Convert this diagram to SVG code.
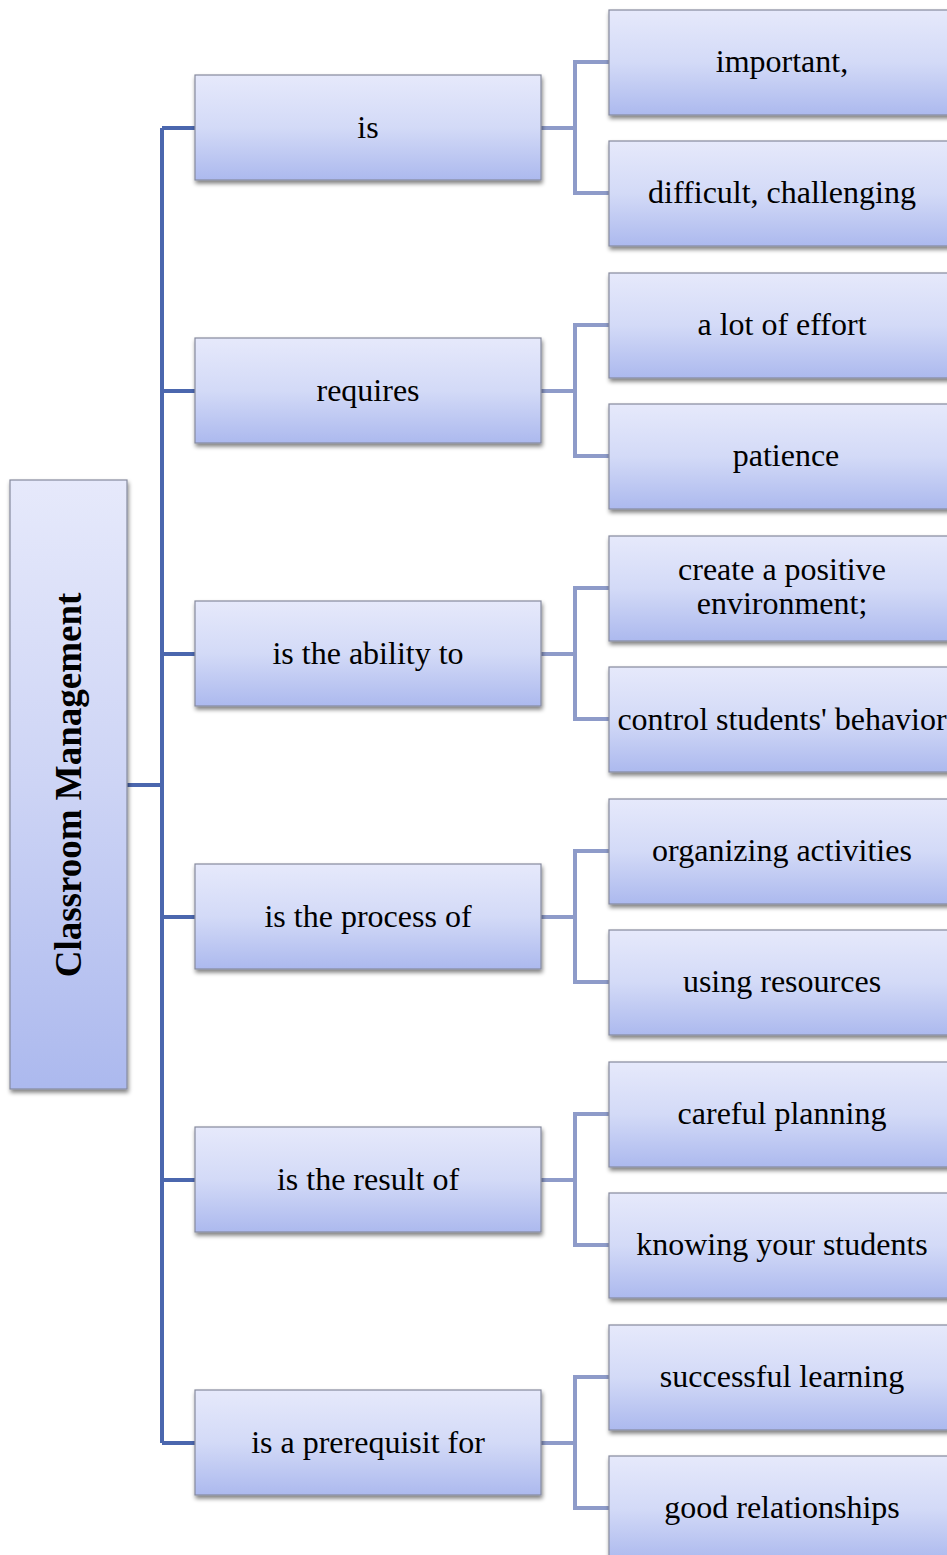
<svg xmlns="http://www.w3.org/2000/svg" width="947" height="1555" viewBox="0 0 947 1555">
  <defs>
    <linearGradient id="boxFill" x1="0" y1="0" x2="0" y2="1">
      <stop offset="0" stop-color="#e6e9fb"/>
      <stop offset="0.5" stop-color="#d3daf7"/>
      <stop offset="1" stop-color="#acb9ee"/>
    </linearGradient>
    <linearGradient id="rootFill" x1="0" y1="0" x2="0" y2="1">
      <stop offset="0" stop-color="#e6e9fb"/>
      <stop offset="0.5" stop-color="#cdd4f5"/>
      <stop offset="1" stop-color="#acb9ee"/>
    </linearGradient>
    <filter id="shadow" x="-10%" y="-10%" width="125%" height="130%">
      <feGaussianBlur in="SourceAlpha" stdDeviation="2"/>
      <feOffset dx="1" dy="3" result="off"/>
      <feComponentTransfer><feFuncA type="linear" slope="0.5"/></feComponentTransfer>
      <feMerge><feMergeNode/><feMergeNode in="SourceGraphic"/></feMerge>
    </filter>
  </defs>
  <style>
    .box { fill: url(#boxFill); stroke: #868a9e; stroke-width: 1.2; filter: url(#shadow); }
    .root { fill: url(#rootFill); stroke: #868a9e; stroke-width: 1.2; filter: url(#shadow); }
    .lbl { font-family: "Liberation Serif", "Times New Roman", serif; font-size: 32px; fill: #000; text-anchor: middle; }
    .rootlbl { font-family: "Liberation Serif", "Times New Roman", serif; font-size: 37px; font-weight: bold; fill: #000; text-anchor: middle; }
    .main { fill: none; stroke: #4b67ae; stroke-width: 4; }
    .sub { fill: none; stroke: #8e9bc9; stroke-width: 4; }
  </style>
  <rect width="947" height="1555" fill="#ffffff"/>

  <!-- connectors -->
  <g id="connectors">
    <path class="main" d="M127 785 H162 M162 128 V1443 M162 128 H195 M162 391 H195 M162 654 H195 M162 917 H195 M162 1180 H195 M162 1443 H195"/>
    <path class="sub" d="M541 128 H575 M609 62 H575 V193 H609"/>
    <path class="sub" d="M541 391 H575 M609 325 H575 V456 H609"/>
    <path class="sub" d="M541 654 H575 M609 588 H575 V719 H609"/>
    <path class="sub" d="M541 917 H575 M609 851 H575 V982 H609"/>
    <path class="sub" d="M541 1180 H575 M609 1114 H575 V1245 H609"/>
    <path class="sub" d="M541 1443 H575 M609 1377 H575 V1508 H609"/>
  </g>

  <!-- root -->
  <g id="root">
    <rect class="root" x="10" y="480" width="117" height="609"/>
    <text class="rootlbl" transform="translate(81 785) rotate(-90)">Classroom Management</text>
  </g>

  <!-- first level -->
  <g id="n-is"><rect class="box" x="195" y="75" width="346" height="105"/><text class="lbl" x="368" y="138">is</text></g>
  <g id="n-requires"><rect class="box" x="195" y="338" width="346" height="105"/><text class="lbl" x="368" y="401">requires</text></g>
  <g id="n-ability"><rect class="box" x="195" y="601" width="346" height="105"/><text class="lbl" x="368" y="664">is the ability to</text></g>
  <g id="n-process"><rect class="box" x="195" y="864" width="346" height="105"/><text class="lbl" x="368" y="927">is the process of</text></g>
  <g id="n-result"><rect class="box" x="195" y="1127" width="346" height="105"/><text class="lbl" x="368" y="1190">is the result of</text></g>
  <g id="n-prereq"><rect class="box" x="195" y="1390" width="346" height="105"/><text class="lbl" x="368" y="1453">is a prerequisit for</text></g>

  <!-- second level -->
  <g id="n-important"><rect class="box" x="609" y="10" width="346" height="105"/><text class="lbl" x="782" y="72">important,</text></g>
  <g id="n-difficult"><rect class="box" x="609" y="141" width="346" height="105"/><text class="lbl" x="782" y="203">difficult, challenging</text></g>
  <g id="n-effort"><rect class="box" x="609" y="273" width="346" height="105"/><text class="lbl" x="782" y="335">a lot of effort</text></g>
  <g id="n-patience"><rect class="box" x="609" y="404" width="346" height="105"/><text class="lbl" x="786" y="466">patience</text></g>
  <g id="n-positive"><rect class="box" x="609" y="536" width="346" height="105"/><text class="lbl" x="782" y="580">create a positive</text><text class="lbl" x="782" y="614">environment;</text></g>
  <g id="n-control"><rect class="box" x="609" y="667" width="346" height="105"/><text class="lbl" x="782" y="730">control students' behavior</text></g>
  <g id="n-organizing"><rect class="box" x="609" y="799" width="346" height="105"/><text class="lbl" x="782" y="861">organizing activities</text></g>
  <g id="n-resources"><rect class="box" x="609" y="930" width="346" height="105"/><text class="lbl" x="782" y="992">using resources</text></g>
  <g id="n-planning"><rect class="box" x="609" y="1062" width="346" height="105"/><text class="lbl" x="782" y="1124">careful planning</text></g>
  <g id="n-knowing"><rect class="box" x="609" y="1193" width="346" height="105"/><text class="lbl" x="782" y="1255">knowing your students</text></g>
  <g id="n-learning"><rect class="box" x="609" y="1325" width="346" height="105"/><text class="lbl" x="782" y="1387">successful learning</text></g>
  <g id="n-relationships"><rect class="box" x="609" y="1456" width="346" height="105"/><text class="lbl" x="782" y="1518">good relationships</text></g>
</svg>
